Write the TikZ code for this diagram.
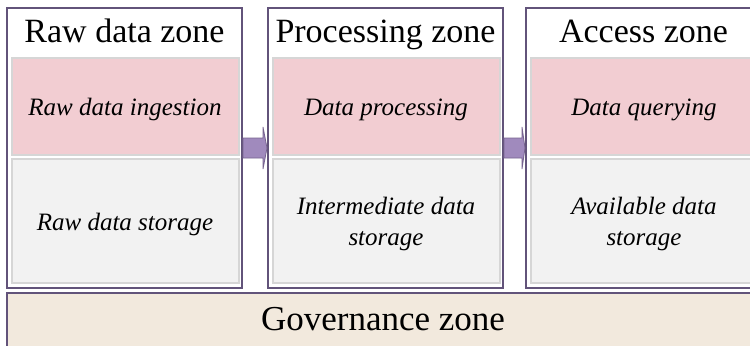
\documentclass[tikz,border=0pt]{standalone}
\usepackage{fontspec}
\setmainfont{Liberation Serif}
\usetikzlibrary{calc}
\definecolor{zoneline}{HTML}{62537A}
\definecolor{pinkfill}{HTML}{F2CDD2}
\definecolor{greyfill}{HTML}{F2F2F2}
\definecolor{innerline}{HTML}{D6D6D6}
\definecolor{govfill}{HTML}{F2E9DD}
\definecolor{arrowfill}{HTML}{A08ABD}
\definecolor{arrowline}{HTML}{76638F}
\begin{document}
\begin{tikzpicture}[x=0.5pt,y=-0.5pt,
  zonebox/.style={draw=zoneline, line width=1pt, fill=white, minimum width=117.5pt, minimum height=140pt, inner sep=0pt},
  zonetitle/.style={font=\fontsize{17}{20}\selectfont, inner sep=0pt, anchor=base},
  pinkbox/.style={draw=innerline, line width=0.6pt, fill=pinkfill, minimum width=113.5pt, minimum height=48.5pt, inner sep=0pt},
  greybox/.style={draw=innerline, line width=0.6pt, fill=greyfill, minimum width=113.5pt, minimum height=62pt, inner sep=0pt},
  itlabel/.style={font=\fontsize{12.5}{15.8}\selectfont\itshape, align=center, inner sep=0pt},
  govbox/.style={draw=zoneline, line width=1pt, fill=govfill, minimum width=377pt, minimum height=29.5pt, inner sep=0pt},
  flowarrow/.style={draw=arrowline, line width=0.4pt, fill=arrowfill}
]
\useasboundingbox (0,0) rectangle (750,345);

% governance
\node[govbox] (gov) at (384,322.5) {};
\node[font=\fontsize{17.5}{20}\selectfont, inner sep=0pt, anchor=base] (govt) at (383,330) {Governance zone};

% zones
\node[zonebox] (z1) at (124.5,148) {};
\node[zonebox] (z2) at (385.5,148) {};
\node[zonebox] (z3) at (643.5,148) {};

\node[zonetitle] (t1) at (124.5,42) {Raw data zone};
\node[zonetitle] (t2) at (385.5,42) {Processing zone};
\node[zonetitle] (t3) at (643.5,42) {Access zone};

\node[pinkbox] (p1) at (125.5,106.5) {};
\node[pinkbox] (p2) at (386.5,106.5) {};
\node[pinkbox] (p3) at (644.5,106.5) {};
\node[itlabel, anchor=base] (pl1) at (125,115) {Raw data ingestion};
\node[itlabel, anchor=base] (pl2) at (386,115) {Data processing};
\node[itlabel, anchor=base] (pl3) at (644,115) {Data querying};

\node[greybox] (g1) at (125.5,221) {};
\node[greybox] (g2) at (386.5,221) {};
\node[greybox] (g3) at (644.5,221) {};
\node[itlabel, anchor=base] (gl1) at (125,230) {Raw data storage};
\node[itlabel] (gl2) at (386,224) {Intermediate data\\storage};
\node[itlabel] (gl3) at (644,224) {Available data\\storage};

% arrows between zones
\draw[flowarrow] ($(z1.east)+(0,-10)$) -- ($(z1.east)+(20,-10)$) -- ($(z1.east)+(20,-21)$)
  -- (z2.west) -- ($(z1.east)+(20,21)$) -- ($(z1.east)+(20,10)$) -- ($(z1.east)+(0,10)$) -- cycle;
\draw[flowarrow] ($(z2.east)+(0,-10)$) -- ($(z2.east)+(18,-10)$) -- ($(z2.east)+(18,-21)$)
  -- (z3.west) -- ($(z2.east)+(18,21)$) -- ($(z2.east)+(18,10)$) -- ($(z2.east)+(0,10)$) -- cycle;
\end{tikzpicture}
\end{document}
